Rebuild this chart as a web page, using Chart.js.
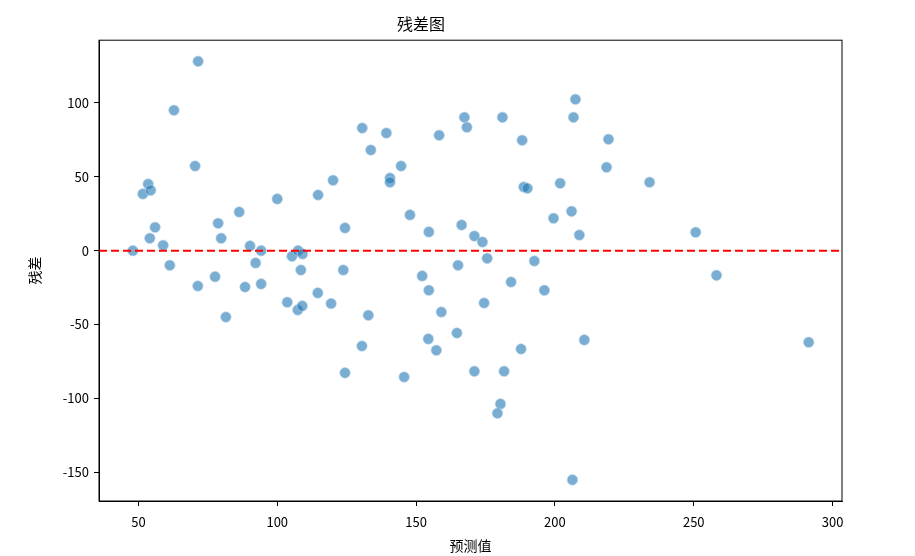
<!DOCTYPE html>
<html>
<head>
<meta charset="utf-8">
<script src="https://cdn.jsdelivr.net/npm/chart.js@4.4.0/dist/chart.umd.min.js"></script>
<style>
  html, body { margin: 0; padding: 0; background: #fff; }
  #wrap { width: 915px; height: 556px; }
</style>
</head>
<body>
<div id="wrap"><canvas id="residChart"></canvas></div>
<script>
// predicted values (x) and residuals (y)
const predicted = [
  71.5, 62.8, 70.4, 53.5, 51.6, 54.4, 56.0, 54.1, 58.9, 48.0,
  61.3, 78.7, 79.8, 86.3, 100.0, 90.2, 94.2, 92.2, 105.3, 107.5,
  109.1, 108.5, 114.7, 120.1, 124.4, 123.8, 77.6, 71.4, 81.5, 88.4,
  94.2, 103.6, 107.4, 109.0, 114.6, 119.4, 124.4, 130.6, 139.3, 133.7,
  144.6, 140.6, 140.6, 147.8, 154.6, 158.3, 167.4, 168.3, 166.4, 171.0,
  173.9, 175.6, 181.1, 188.2, 188.8, 190.1, 192.6, 201.9, 199.5, 206.0,
  208.8, 206.7, 207.4, 152.2, 165.1, 132.8, 130.5, 145.7, 154.6, 159.1,
  154.4, 157.3, 164.7, 174.5, 171.0, 184.2, 181.7, 180.4, 179.3, 187.8,
  196.2, 210.6, 206.3, 219.3, 218.6, 234.1, 250.7, 258.2, 291.4
];
const residuals = [
  128.1, 95.0, 57.3, 45.1, 38.4, 40.8, 15.8, 8.4, 3.6, 0.0,
  -9.9, 18.5, 8.4, 26.2, 35.0, 3.2, 0.0, -8.3, -3.8, 0.0,
  -2.2, -13.1, 37.7, 47.6, 15.4, -13.1, -17.6, -23.9, -44.9, -24.6,
  -22.5, -34.9, -40.1, -37.4, -28.6, -35.8, -82.7, 83.0, 79.6, 68.1,
  57.3, 49.2, 46.3, 24.2, 12.7, 78.1, 90.2, 83.5, 17.4, 9.9,
  5.9, -5.2, 90.2, 74.7, 43.1, 42.2, -7.0, 45.6, 21.9, 26.6,
  10.6, 90.2, 102.4, -17.1, -9.9, -43.7, -64.5, -85.5, -26.8, -41.5,
  -59.7, -67.4, -55.7, -35.4, -81.6, -21.2, -81.6, -103.7, -110.0, -66.5,
  -26.8, -60.4, -155.1, 75.4, 56.4, 46.3, 12.4, -16.7, -62.0
];
const xTicks = [50, 100, 150, 200, 250, 300];
const yTicks = [-150, -100, -50, 0, 50, 100];
const xMin = 35.8, xMax = 303.4;
const yMin = -169.4, yMax = 142.4;

const points = predicted.map((x, i) => ({ x: x, y: residuals[i] }));

const fontFamily = '"Noto Sans CJK SC", "DejaVu Sans", sans-serif';

// frame around the plot area, like matplotlib's axes box
const framePlugin = {
  id: 'frame',
  afterDraw(chart) {
    const a = chart.chartArea;
    const ctx = chart.ctx;
    ctx.save();
    ctx.strokeStyle = '#000';
    ctx.lineWidth = 1;
    ctx.strokeRect(a.left, a.top, a.right - a.left, a.bottom - a.top);
    ctx.restore();
  }
};

const config = {
  type: 'scatter',
  data: {
    datasets: [
      {
        type: 'line',
        label: 'zero',
        data: [{ x: xMin, y: 0 }, { x: xMax, y: 0 }],
        borderColor: 'rgb(255,0,0)',
        borderWidth: 2,
        borderDash: [8, 4],
        pointRadius: 0,
        fill: false
      },
      {
        label: 'residuals',
        data: points,
        backgroundColor: 'rgba(31,119,180,0.6)',
        borderColor: 'rgba(190,215,235,0.6)',
        borderWidth: 1,
        pointRadius: 5.3
      }
    ]
  },
  options: {
    responsive: true,
    maintainAspectRatio: false,
    animation: false,
    layout: {
      padding: { left: 0, right: 73, top: 0, bottom: 0 }
    },
    plugins: {
      legend: { display: false },
      tooltip: { enabled: false },
      title: {
        display: true,
        text: '残差图',
        color: '#000',
        font: { family: fontFamily, size: 16, weight: 'normal' },
        padding: { top: 14, bottom: 7 }
      }
    },
    scales: {
      x: {
        type: 'linear',
        min: xMin,
        max: xMax,
        afterBuildTicks: (scale) => { scale.ticks = xTicks.map(v => ({ value: v })); },
        afterFit: (scale) => { scale.height = 55; },
        grid: { display: true, drawOnChartArea: false, color: '#000', tickLength: 5 },
        border: { display: true, color: '#000', width: 1 },
        ticks: {
          color: '#000',
          padding: 8,
          maxRotation: 0,
          font: { family: fontFamily, size: 13 }
        },
        title: {
          display: true,
          text: '预测值',
          color: '#000',
          font: { family: fontFamily, size: 14 },
          padding: { top: 4, bottom: 2 }
        }
      },
      y: {
        type: 'linear',
        min: yMin,
        max: yMax,
        afterBuildTicks: (scale) => { scale.ticks = yTicks.map(v => ({ value: v })); },
        afterFit: (scale) => { scale.width = 99; },
        grid: { display: true, drawOnChartArea: false, color: '#000', tickLength: 5 },
        border: { display: true, color: '#000', width: 1 },
        ticks: {
          color: '#000',
          padding: 5,
          font: { family: fontFamily, size: 13 }
        },
        title: {
          display: true,
          text: '残差',
          color: '#000',
          font: { family: fontFamily, size: 14 },
          padding: { top: 26, bottom: 0 }
        }
      }
    }
  },
  plugins: [framePlugin]
};

const residChart = new Chart(
  document.getElementById('residChart'),
  config
);
</script>
</body>
</html>
